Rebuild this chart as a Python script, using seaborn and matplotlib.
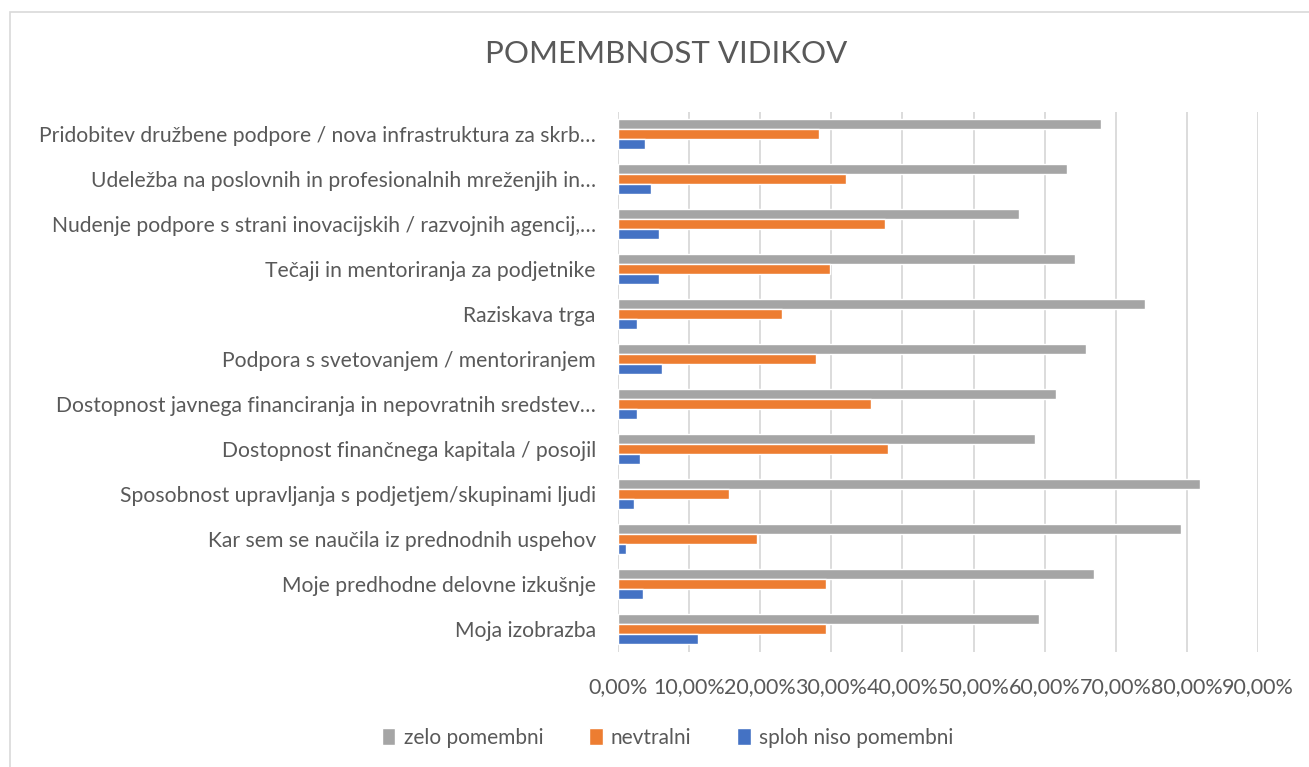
import pandas as pd
import seaborn as sns
import matplotlib.pyplot as plt
from matplotlib.patches import Rectangle
from matplotlib.ticker import FuncFormatter

# categories, top to bottom as in the chart
aspects = [
    "Pridobitev družbene podpore / nova infrastruktura za skrb…",
    "Udeležba na poslovnih in profesionalnih mreženjih in…",
    "Nudenje podpore s strani inovacijskih / razvojnih agencij,…",
    "Tečaji in mentoriranja za podjetnike",
    "Raziskava trga",
    "Podpora s svetovanjem / mentoriranjem",
    "Dostopnost javnega financiranja in nepovratnih sredstev…",
    "Dostopnost finančnega kapitala / posojil",
    "Sposobnost upravljanja s podjetjem/skupinami ljudi",
    "Kar sem se naučila iz prednodnih uspehov",
    "Moje predhodne delovne izkušnje",
    "Moja izobrazba",
]
zelo = [0.679, 0.631, 0.564, 0.643, 0.741, 0.658, 0.616, 0.587, 0.819, 0.792, 0.670, 0.592]
nevtralni = [0.282, 0.321, 0.376, 0.298, 0.231, 0.278, 0.356, 0.380, 0.156, 0.196, 0.293, 0.293]
sploh = [0.038, 0.047, 0.058, 0.058, 0.027, 0.062, 0.027, 0.031, 0.023, 0.011, 0.035, 0.113]

series = ["zelo pomembni", "nevtralni", "sploh niso pomembni"]
colors = ["#A5A5A5", "#ED7D31", "#4472C4"]

df = pd.DataFrame({
    "aspect": aspects * 3,
    "share": zelo + nevtralni + sploh,
    "group": [series[0]] * len(aspects) + [series[1]] * len(aspects) + [series[2]] * len(aspects),
})

sns.set_style("white")
plt.rcParams['font.family'] = ['Lato', 'DejaVu Sans']
txt = "#595959"

fig = plt.figure(figsize=(13.09, 7.67), dpi=100)
ax = fig.add_axes([0.4721, 0.150, 0.4889, 0.704])

sns.barplot(data=df, y="aspect", x="share", hue="group", order=aspects,
            hue_order=series, palette=colors, orient="h", width=0.667,
            saturation=1, ax=ax, legend=True)

ax.set_xlim(0, 0.9)
ax.set_xticks([i / 10 for i in range(10)])
ax.xaxis.set_major_formatter(FuncFormatter(lambda v, p: f"{v*100:.2f}%".replace(".", ",")))
ax.grid(axis="x", color="#d9d9d9", linewidth=1.3)
ax.set_axisbelow(True)
for s in ax.spines.values():
    s.set_visible(False)
ax.set_xlabel("")
ax.set_ylabel("")
ax.tick_params(axis="y", length=0, pad=16, labelsize=15.2, labelcolor=txt)
ax.tick_params(axis="x", length=0, pad=18, labelsize=15.5, labelcolor=txt)

# legend below the plot
handles, labels = ax.get_legend_handles_labels()
ax.get_legend().remove()
fig.legend(handles, labels, loc="center", bbox_to_anchor=(0.51, 0.038), ncol=3,
           frameon=False, fontsize=15, labelcolor=txt, handlelength=0.65,
           handleheight=0.9, handletextpad=0.4, columnspacing=2.2)

fig.text(0.509, 0.930, "POMEMBNOST VIDIKOV", ha="center", va="center",
         fontsize=22.5, color=txt)

# chart frame
fig.patches.append(Rectangle((0.0075, -0.01), 1.0, 0.995, transform=fig.transFigure,
                             fill=False, edgecolor="#d9d9d9", linewidth=1.2))

fig.savefig("out.png", dpi=100)
